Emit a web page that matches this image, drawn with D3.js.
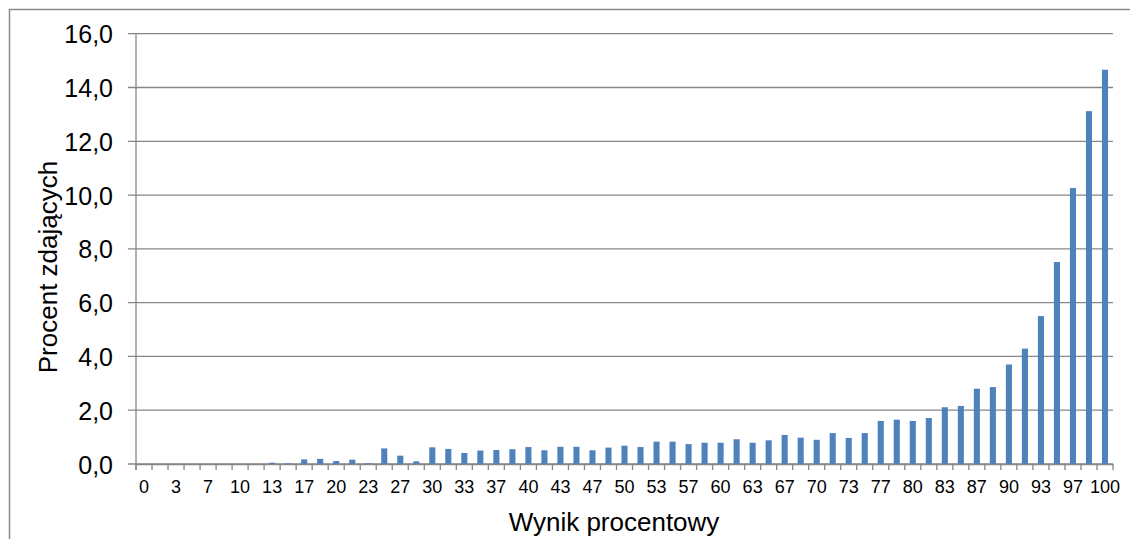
<!DOCTYPE html>
<html>
<head>
<meta charset="utf-8">
<script src="https://cdn.jsdelivr.net/npm/d3@7"></script>
<style>
  body { margin: 0; background: #fff; }
  text { font-family: "Liberation Sans", Arial, sans-serif; fill: #000; }
</style>
</head>
<body>
<div id="chart"></div>
<script>
// Data
let categories = ["0","2","3","5","7","8","10","12","13","15","17","18","20","22","23","25","27","28","30","32",
                  "33","35","37","38","40","42","43","45","47","48","50","52","53","55","57","58","60","62","63","65",
                  "67","68","70","72","73","75","77","78","80","82","83","85","87","88","90","92","93","95","97","98","100"];
let values = [0,0,0,0,0,0,0,0,0.05,0.02,0.17,0.19,0.11,0.16,0.03,0.58,0.31,0.10,0.62,0.56,
              0.41,0.50,0.52,0.55,0.63,0.51,0.64,0.64,0.51,0.61,0.68,0.63,0.83,0.83,0.74,0.79,0.79,0.92,0.79,0.88,
              1.08,0.98,0.90,1.15,0.97,1.15,1.60,1.65,1.60,1.71,2.11,2.16,2.80,2.86,3.70,4.29,5.50,7.51,10.26,13.12,14.66];
let xTickLabels = ["0","3","7","10","13","17","20","23","27","30","33","37","40","43","47","50",
                   "53","57","60","63","67","70","73","77","80","83","87","90","93","97","100"];
let yTicks = [0, 2, 4, 6, 8, 10, 12, 14, 16];

let width = 1130;
let height = 539;
let margin = ({top: 33.7, right: 17, bottom: 75, left: 136});

const svg = d3.select("#chart").append("svg")
              .attr("width", width)
              .attr("height", height);

// outer chart border
svg.append("rect")
   .attr("x", 9.5).attr("y", 9.5)
   .attr("width", width + 20).attr("height", height + 20)
   .attr("fill", "none")
   .attr("stroke", "#8a8a8a")
   .attr("stroke-width", 1.5);

let x = d3.scaleBand()
          .domain(categories)
          .range([margin.left, width - margin.right])
          .paddingInner(0.62)
          .paddingOuter(0.31);

let y = d3.scaleLinear()
          .domain([0, 16])
          .range([height - margin.bottom, margin.top]);

let comma = d3.formatLocale({decimal: ",", thousands: " ", grouping: [3], currency: ["", ""]}).format(".1f");

// gridlines
svg.append("g")
   .selectAll("line")
   .data(yTicks)
   .join("line")
   .attr("x1", margin.left - 8)
   .attr("x2", width - margin.right)
   .attr("y1", d => y(d))
   .attr("y2", d => y(d))
   .attr("stroke", "#868686")
   .attr("stroke-width", 1.3);

let yAxis = g => g
    .attr("transform", `translate(${margin.left},0)`)
    .call(d3.axisLeft(y).tickValues(yTicks).tickFormat(comma).tickSize(0).tickPadding(23))
    .call(g => g.select(".domain").remove())
    .call(g => g.selectAll("text").attr("font-size", 25).attr("dy", "0.36em")
                .attr("font-family", "Liberation Sans, Arial, sans-serif"));

svg.append("g").call(yAxis);

// y axis line
svg.append("line")
   .attr("x1", margin.left).attr("x2", margin.left)
   .attr("y1", y(16)).attr("y2", y(0) + 6)
   .attr("stroke", "#868686")
   .attr("stroke-width", 1.3);

// bars
svg.append("g")
   .selectAll("rect")
   .data(values)
   .join("rect")
   .attr("x", (d, i) => x(categories[i]))
   .attr("width", x.bandwidth())
   .attr("y", d => y(d))
   .attr("height", d => y(0) - y(d))
   .attr("fill", "#4f81bd");

// x axis, ticks sit between categories
let step = x.step();
let xAxis = g => g
    .attr("transform", `translate(0,${y(0)})`)
    .call(d3.axisBottom(x)
            .tickValues(categories.filter(c => xTickLabels.includes(c)))
            .tickSize(0)
            .tickPadding(16))
    .call(g => g.select(".domain").attr("stroke", "#868686").attr("stroke-width", 1.3))
    .call(g => g.selectAll("text").attr("font-size", 18).attr("font-family", "Liberation Sans, Arial, sans-serif"));

svg.append("g").call(xAxis);

svg.append("g")
   .selectAll("line")
   .data(d3.range(categories.length + 1))
   .join("line")
   .attr("x1", i => margin.left + i * step)
   .attr("x2", i => margin.left + i * step)
   .attr("y1", y(0))
   .attr("y2", y(0) + 6)
   .attr("stroke", "#868686")
   .attr("stroke-width", 1.3);

// axis titles
svg.append("text")
   .attr("x", 614)
   .attr("y", 531)
   .attr("text-anchor", "middle")
   .attr("font-size", 26)
   .text("Wynik procentowy");

svg.append("text")
   .attr("transform", "translate(57,267) rotate(-90)")
   .attr("text-anchor", "middle")
   .attr("font-size", 26)
   .text("Procent zdających");
</script>
</body>
</html>
